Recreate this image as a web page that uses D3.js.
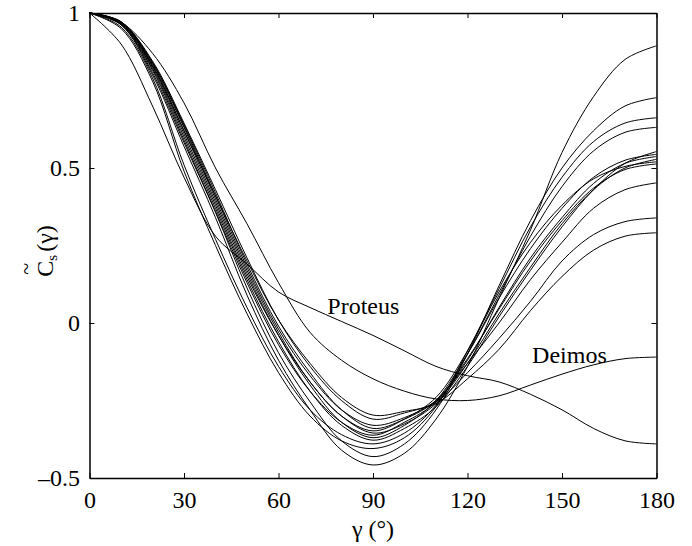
<!DOCTYPE html>
<html>
<head>
<meta charset="utf-8">
<script src="https://cdn.jsdelivr.net/npm/d3@7"></script>
<style>
  html, body { margin: 0; padding: 0; background: #fff; }
  svg { display: block; }
  svg text { font-family: "Liberation Serif", "Times New Roman", Times, "Nimbus Roman", "DejaVu Serif", serif !important; fill: #000; }
</style>
</head>
<body>
<svg id="chart" width="692" height="546"></svg>
<script>
// ---- data (angles sampled every 10 degrees) ----
const gamma = [0,10,20,30,40,50,60,70,80,90,100,110,120,130,140,150,160,170,180];

const curveA = [1,0.962,0.80,0.57,0.34,0.09,-0.12,-0.28,-0.41,-0.458,-0.42,-0.31,-0.14,0.08,0.30,0.55,0.73,0.85,0.894];
const curveB = [1,0.963,0.807,0.582,0.357,0.113,-0.096,-0.254,-0.38,-0.431,-0.39,-0.28,-0.10,0.12,0.33,0.50,0.62,0.70,0.727];
const curveC = [1,0.95,0.78,0.49,0.25,0.03,-0.16,-0.30,-0.38,-0.405,-0.37,-0.27,-0.09,0.11,0.31,0.47,0.585,0.645,0.662];
const curveD = [1,0.955,0.79,0.51,0.27,0.05,-0.14,-0.28,-0.36,-0.39,-0.355,-0.265,-0.10,0.09,0.28,0.44,0.555,0.615,0.631];
const curveE = [1,0.965,0.82,0.60,0.37,0.14,-0.06,-0.22,-0.33,-0.378,-0.34,-0.27,-0.14,0.02,0.17,0.31,0.43,0.515,0.553];
const curveF = [1,0.968,0.83,0.62,0.39,0.16,-0.04,-0.20,-0.32,-0.37,-0.33,-0.25,-0.10,0.08,0.24,0.37,0.47,0.525,0.544];
const curveG = [1,0.963,0.815,0.59,0.36,0.13,-0.07,-0.22,-0.32,-0.362,-0.32,-0.255,-0.12,0.05,0.21,0.34,0.45,0.515,0.537];
const curveH = [1,0.97,0.835,0.63,0.40,0.17,-0.03,-0.19,-0.30,-0.355,-0.325,-0.26,-0.13,0.03,0.18,0.32,0.43,0.50,0.528];
const curveI = [1,0.966,0.825,0.61,0.38,0.15,-0.04,-0.19,-0.30,-0.348,-0.31,-0.24,-0.09,0.10,0.26,0.38,0.465,0.505,0.52];
const curveJ = [1,0.972,0.84,0.64,0.42,0.19,-0.01,-0.16,-0.28,-0.34,-0.31,-0.25,-0.115,0.045,0.20,0.33,0.435,0.495,0.513];
const curveK = [1,0.97,0.84,0.635,0.41,0.18,-0.02,-0.17,-0.28,-0.33,-0.305,-0.25,-0.13,0.0,0.14,0.26,0.37,0.43,0.452];
const curveL = [1,0.972,0.845,0.645,0.43,0.21,0.01,-0.14,-0.25,-0.31,-0.29,-0.255,-0.16,-0.05,0.07,0.20,0.285,0.327,0.339];
const curveM = [1,0.97,0.83,0.62,0.41,0.20,0.01,-0.13,-0.24,-0.297,-0.285,-0.26,-0.18,-0.085,0.04,0.15,0.235,0.28,0.291];
const proteus = [1,0.90,0.70,0.47,0.28,0.19,0.10,0.05,0.005,-0.04,-0.09,-0.14,-0.17,-0.19,-0.23,-0.28,-0.34,-0.38,-0.39];
const deimos  = [1,0.97,0.87,0.71,0.50,0.32,0.13,-0.03,-0.12,-0.18,-0.22,-0.245,-0.25,-0.235,-0.20,-0.165,-0.135,-0.115,-0.11];

const seriesList = [curveA,curveB,curveC,curveD,curveE,curveF,curveG,curveH,curveI,curveJ,curveK,curveL,curveM,proteus,deimos];

const xTicks = [0,30,60,90,120,150,180];
const yTicks = [-0.5,0,0.5,1];
const yTickLabels = ["\u20130.5","0","0.5","1"];
const labelNames = ["Proteus","Deimos"];
const labelAnchors = [[75.5,0.03],[140.5,-0.13]]; // data-space anchor of each name

// ---- layout ----
const svg = d3.select("#chart");
const pLeft = 89.5, pRight = 656.5, pTop = 13, pBottom = 478;
const x = d3.scaleLinear().domain([0,180]).range([pLeft,pRight]);
const y = d3.scaleLinear().domain([-0.5,1]).range([pBottom,pTop]);
const fs = 24;
const serif = '"Liberation Serif", "Times New Roman", Times, "Nimbus Roman", "DejaVu Serif", serif';

// curves
const line = d3.line().x((d,i)=>x(gamma[i])).y(d=>y(d)).curve(d3.curveCatmullRom.alpha(0.5));
svg.append("g").selectAll("path").data(seriesList).join("path")
  .attr("d", line).attr("fill","none").attr("stroke","#000").attr("stroke-width",1);

// axes with inward ticks
function styleAxis(g){
  g.attr("font-family", serif);
  g.select(".domain").attr("stroke","#000").attr("stroke-width",1.5);
  g.selectAll(".tick line").attr("stroke","#000").attr("stroke-width",1);
  g.selectAll("text").attr("font-family", serif).style("font-size",fs+"px").attr("fill","#000");
}
const gb = svg.append("g").attr("transform",`translate(0,${pBottom})`)
  .call(d3.axisBottom(x).tickValues(xTicks).tickSizeInner(-5).tickSizeOuter(0).tickPadding(13).tickFormat(d3.format("d")));
styleAxis(gb);
const gt = svg.append("g").attr("transform",`translate(0,${pTop})`)
  .call(d3.axisTop(x).tickValues(xTicks).tickSizeInner(-5).tickSizeOuter(0).tickFormat(""));
styleAxis(gt);
const gl = svg.append("g").attr("transform",`translate(${pLeft},0)`)
  .call(d3.axisLeft(y).tickValues(yTicks).tickSizeInner(-5).tickSizeOuter(0).tickPadding(9.5).tickFormat((d,i)=>yTickLabels[i]));
styleAxis(gl);
const gr = svg.append("g").attr("transform",`translate(${pRight},0)`)
  .call(d3.axisRight(y).tickValues(yTicks).tickSizeInner(-5).tickSizeOuter(0).tickFormat(""));
styleAxis(gr);

// curve names
svg.append("g").attr("font-family", serif).selectAll("text").data(labelNames).join("text")
  .attr("x",(d,i)=>x(labelAnchors[i][0]))
  .attr("y",(d,i)=>y(labelAnchors[i][1]))
  .style("font-size",fs+"px").text(d=>d);

// x label
svg.append("text").attr("x",(pLeft+pRight)/2).attr("y",537)
  .attr("text-anchor","middle").attr("font-family", serif).style("font-size",fs+"px")
  .text("\u03B3 (\u00B0)");

// y label: C~_s(γ), rotated
const yl = svg.append("g").attr("transform","translate(53,251) rotate(-90)").attr("font-family", serif);
const yt = yl.append("text").attr("text-anchor","middle").style("font-size",fs+"px");
yt.append("tspan").text("C");
yt.append("tspan").attr("dy",4).style("font-size","15px").text("s");
yt.append("tspan").attr("dy",-4).attr("dx",3).text("(\u03B3)");
// tilde over C
const bb = yt.node().getBBox();
yl.append("text").attr("x",bb.x + 8).attr("y",-20).attr("text-anchor","middle")
  .style("font-size","22px").text("~");
</script>
</body>
</html>
